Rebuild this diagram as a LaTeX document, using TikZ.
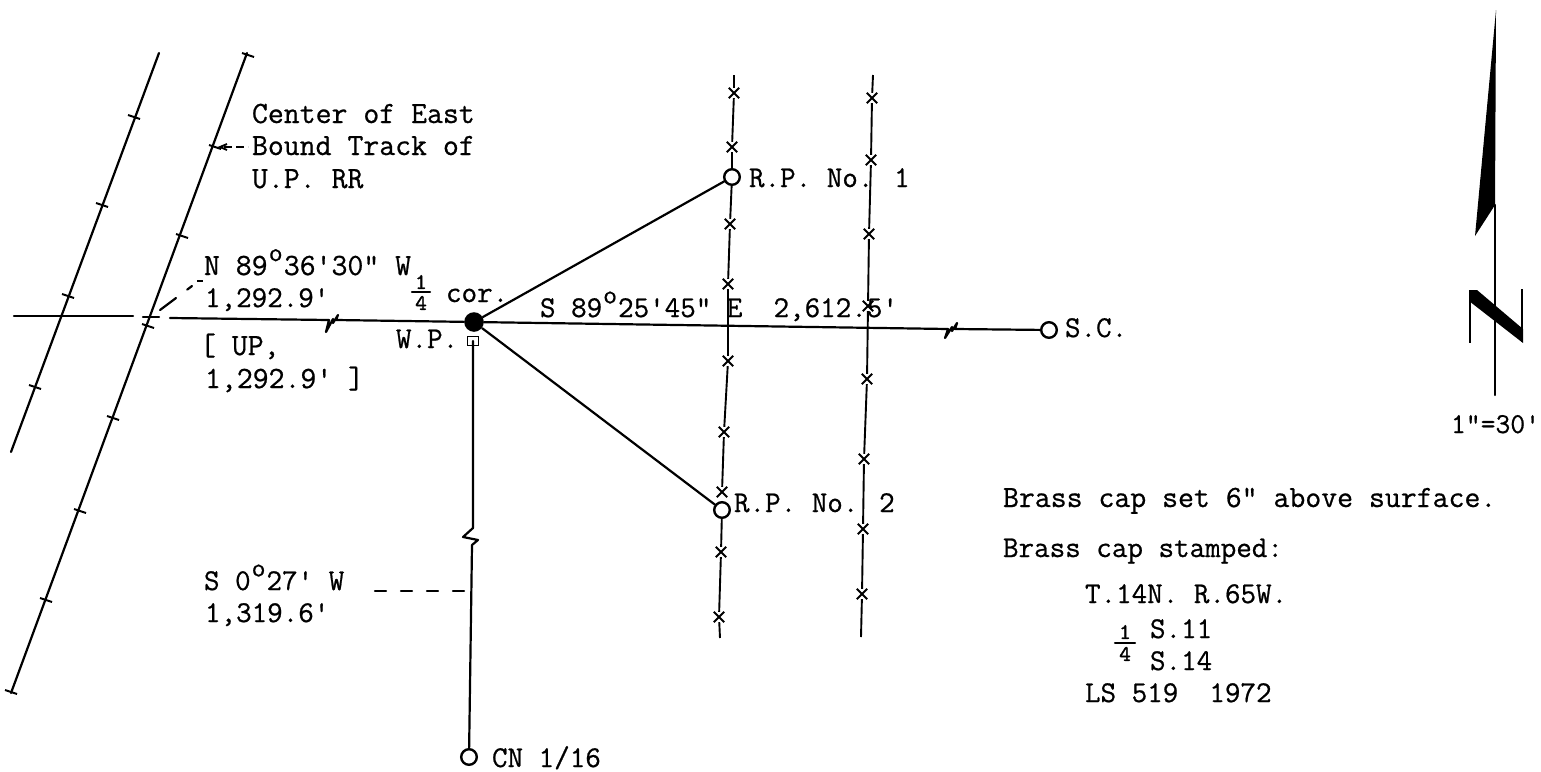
\documentclass[tikz,border=0pt]{standalone}
\usepackage{fontspec}
\usetikzlibrary{shapes.misc}
\newfontfamily\tw[FakeBold=0.7]{Latin Modern Mono}
\newfontfamily\twb[FakeBold=1.8]{Latin Modern Mono}
\newcommand{\dgr}{\makebox[0.525em]{\raisebox{0.45em}{\fontsize{13.5}{14}\selectfont o}}}
\tikzset{
 x=0.5pt,y=-0.5pt,
 ln/.style={line width=1.1pt,black,line cap=round,line join=round},
 fence/.style={line width=0.95pt,black},
 txt/.style={anchor=base west,inner sep=0pt,outer sep=0pt,font=\fontsize{15.1}{17}\selectfont\tw,text=black},
 wide/.style={txt,font=\fontsize{15.45}{17}\selectfont\tw},
 frac/.style={anchor=center,inner sep=0pt,font=\fontsize{11}{11}\selectfont\twb,text=black},
 ring/.style={circle,draw=black,line width=1.2pt,fill=white,minimum size=7.8pt,inner sep=0pt},
 xmark/.style={cross out,draw=black,line width=0.95pt,minimum size=3.2pt,inner sep=0pt,outer sep=1pt},
 tick/.style={line width=1pt,black}
}
\begin{document}
\begin{tikzpicture}
\useasboundingbox (0,0) rectangle (1541,771);
% tracks
\coordinate (t1a) at (159,53); \coordinate (t1b) at (11,452);
\coordinate (t2a) at (247,53); \coordinate (t2b) at (11,693);
\draw[ln] (t1a) -- (t1b);
\draw[ln] (t2a) -- (t2b);
\foreach \px/\py in {134/117,102/205,68/296,35/387}
  \draw[tick] (\px-6,\py-2) -- (\px+6,\py+2);
\foreach \px/\py in {248/55,215/147,182/236,148/326,113/418,80/511,46/600,11/692}
  \draw[tick] (\px-6,\py-2) -- (\px+6,\py+2);
% main nodes
\node[circle,fill=black,minimum size=9.8pt,inner sep=0pt] (wp) at (474,322) {};
\node[ring] (sc) at (1049,330) {};
\node[ring] (rp1) at (732,177) {};
\node[ring] (rp2) at (722,510) {};
\node[ring] (cn) at (469,757) {};
\node[draw=black,line width=0.9pt,minimum width=5.5pt,minimum height=4.5pt,inner sep=0pt] (wps) at (473,341) {};
% east-west line
\coordinate (w0) at (14,316); \coordinate (w1) at (133,316);
\coordinate (w2) at (143,317); \coordinate (w3) at (159,317);
\coordinate (w4) at (170,318);
\draw[ln] (w0) -- (w1);
\draw[ln] (w2) -- (w3);
\coordinate (b1a) at (329,320); \coordinate (b1b) at (336,320);
\draw[ln] (w4) -- (b1a) -- (326,332) -- (333,319) -- (333,323) -- (338,315) -- (b1b) -- (wp);
\coordinate (b2a) at (948,329); \coordinate (b2b) at (955,329);
\draw[ln] (wp) -- (b2a) -- (945,338) -- (952,327) -- (952,331) -- (957,323) -- (b2b) -- (sc);
% radials
\draw[ln] (wp) -- (rp1);
\draw[ln] (wp) -- (rp2);
% south line
\coordinate (b3a) at (473,528); \coordinate (b3b) at (472,545);
\draw[ln] (wps.center) -- (b3a) -- (463,537) -- (478,540) -- (b3b) -- (cn);
% fence lines
\coordinate (f1a) at (734,75); \coordinate (f1b) at (720,638);
\coordinate (f2a) at (873,75); \coordinate (f2b) at (861,637);
\foreach \i/\px/\py in {1/734/93,2/732/147,3/730/224,4/728/284,5/728/361,6/724/432,7/722/492,8/721/552,9/719/617}
  \node[xmark] (fa\i) at (\px,\py) {};
\foreach \i/\px/\py in {1/872/98,2/871/160,3/869/234,4/868/306,5/867/379,6/864/459,7/863/529,8/862/594}
  \node[xmark] (fb\i) at (\px,\py) {};
\draw[fence] (f1a) -- (fa1) (fa1) -- (fa2) (fa2) -- (rp1) (rp1) -- (fa3) (fa3) -- (fa4) (fa4) -- (fa5) (fa5) -- (fa6) (fa6) -- (fa7) (rp2) -- (fa8) (fa8) -- (fa9) (fa9) -- (f1b);
\draw[fence] (f2a) -- (fb1) (fb1) -- (fb2) (fb2) -- (fb3) (fb3) -- (fb4) (fb4) -- (fb5) (fb5) -- (fb6) (fb6) -- (fb7) (fb7) -- (fb8) (fb8) -- (f2b);
% leaders
\coordinate (l1) at (160,310); \coordinate (l2) at (192,286);
\draw[ln,dash pattern=on 10pt off 7pt] (l1) -- (l2);
\coordinate (l3) at (197,281); \coordinate (l4) at (203,281);
\draw[fence] (l3) -- (l4);
\coordinate (l5) at (224,147); \coordinate (l6) at (248,147);
\draw[fence,dash pattern=on 4pt off 2pt] (l5) -- (l6);
\draw[fence] (227,144) -- (220,147) -- (227,150);
\coordinate (l7) at (375,591); \coordinate (l8) at (465,591);
\draw[ln,dash pattern=on 5.5pt off 7.5pt] (l7) -- (l8);
% north arrow
\fill[black] (1496,10) -- (1475,236) -- (1495,205) -- cycle;
\coordinate (n1) at (1495,205); \coordinate (n2) at (1495,395);
\draw[ln] (n1) -- (n2);
\fill[black] (1469,290) -- (1477,290) -- (1523,329) -- (1523,343) -- (1469,301) -- cycle;
\draw[line width=1.2pt] (1470,290) -- (1470,343);
\draw[line width=1.2pt] (1522,289) -- (1522,342);
% text
\node[wide] (a1) at (252,123) {Center of East};
\node[wide] (a2) at (252,155) {Bound Track of};
\node[wide] (a3) at (252,188) {U.P. RR};
\node[txt] (a4) at (749,187) {R.P. No. 1};
\node[txt] (a5) at (734,512) {R.P. No. 2};
\node[txt] (a6) at (1065,337) {S.C.};
\node[wide] (a7) at (204,275) {N 89\dgr 36'30" W};
\node[txt] (a8) at (205,307) {1,292.9'};
\node[wide] (a9) at (200,355) {[ UP,};
\node[wide] (a10) at (205,388) {1,292.9' ]};
\node[frac] (a11a) at (421,282) {1};
\node[frac] (a11b) at (421,303) {4};
\coordinate (fr1a) at (412,292); \coordinate (fr1b) at (430,292);
\draw[ln] (fr1a) -- (fr1b);
\node[txt] (a12) at (446,302) {cor.};
\node[txt] (a13) at (396,348) {W.P.};
\node[txt] (a14) at (540,317) {S 89\dgr 25'45" E\ \ 2,612.5'};
\node[txt] (a15) at (204,590) {S 0\dgr 27' W};
\node[txt] (a16) at (205,622) {1,319.6'};
\node[txt] (a17) at (492,767) {CN 1/16};
\node[txt,font=\fontsize{14.4}{17}\selectfont\tw] (a18) at (1451,433) {1"=30'};
\node[wide] (a19) at (1003,507) {Brass cap set 6" above surface.};
\node[txt] (a20) at (1003,557) {Brass cap stamped:};
\node[txt] (a21) at (1085,603) {T.14N. R.65W.};
\node[txt] (a22) at (1150,638) {S.11};
\node[txt] (a23) at (1150,670) {S.14};
\node[txt] (a24) at (1085,702) {LS 519\ \ 1972};
\node[frac] (a25a) at (1125,632) {1};
\node[frac] (a25b) at (1125,654) {4};
\coordinate (fr2a) at (1115,643); \coordinate (fr2b) at (1135,643);
\draw[ln] (fr2a) -- (fr2b);
\end{tikzpicture}
\end{document}
